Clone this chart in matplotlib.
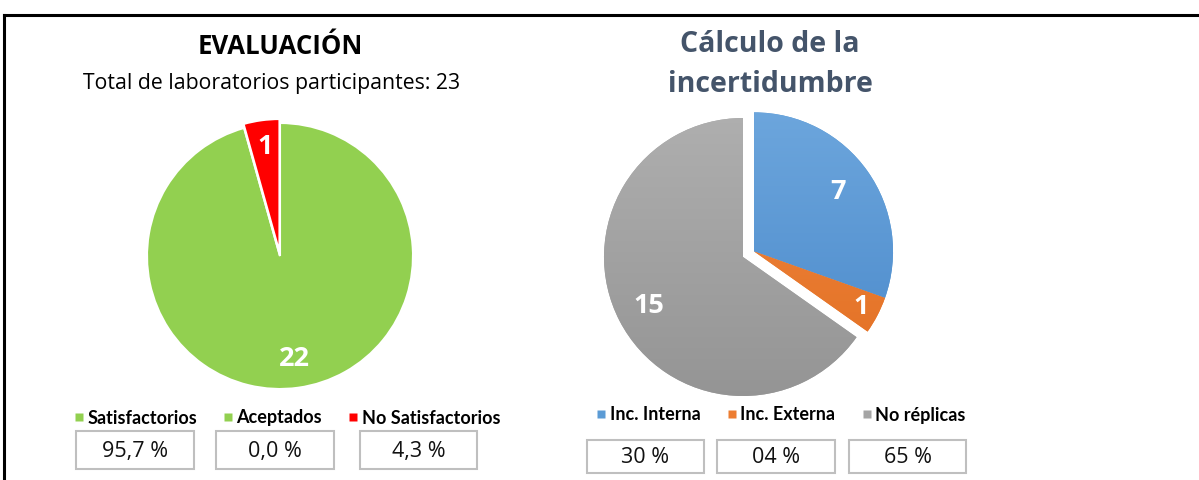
import numpy as np
import matplotlib
matplotlib.use("Agg")
import matplotlib.pyplot as plt
from matplotlib.patches import Rectangle
from matplotlib.lines import Line2D

plt.rcParams['font.family'] = ['Lato', 'DejaVu Sans']

# ---------------- data ----------------
eval_labels = ["Satisfactorios", "Aceptados", "No Satisfactorios"]
eval_values = [22, 0, 1]
eval_pct = ["95,7 %", "0,0 %", "4,3 %"]
eval_title = "EVALUACIÓN"
eval_subtitle = "Total de laboratorios participantes: 23"

inc_labels = ["Inc. Interna", "Inc. Externa", "No réplicas"]
inc_values = [7, 1, 15]
inc_pct = ["30 %", "04 %", "65 %"]
inc_title = "Cálculo de la\nincertidumbre"

# ---------------- style ----------------
eval_colors = ["#92D050", "#92D050", "#FF0000"]
inc_colors = ["#5B9BD5", "#ED7D31", "#A5A5A5"]
inc_grad = [("#6FA8DE", "#4585C8"), ("#F28A44", "#E06C1E"), ("#B1B1B1", "#929292")]
OPEN = ["Open Sans", "DejaVu Sans"]

W, H = 1199, 480
fig = plt.figure(figsize=(W / 100, H / 100), dpi=100)
fig.patch.set_facecolor("white")


def px_axes(cx, cy, r, lim=1.2):
    size = 2 * lim * r
    return fig.add_axes([(cx - size / 2) / W, (H - cy - size / 2) / H, size / W, size / H])


def fig_text(x, y, s, **kw):
    fig.text(x / W, 1 - y / H, s, **kw)


def box(x0, x1, y0, y1, s):
    fig.add_artist(Rectangle((x0 / W, 1 - y1 / H), (x1 - x0) / W, (y1 - y0) / H,
                             transform=fig.transFigure, facecolor="white",
                             edgecolor="#BFBFBF", linewidth=1.5))
    fig_text((x0 + x1) / 2, (y0 + y1) / 2 + 1, s, ha="center", va="center",
             fontsize=15.5, color="#111111", family=OPEN)


def place_labels(ax, wedges, values, dists):
    for i, (w, v) in enumerate(zip(wedges, values)):
        if v == 0:
            continue
        ang = np.deg2rad((w.theta1 + w.theta2) / 2)
        cx, cy = w.center
        ax.text(cx + dists[i] * np.cos(ang), cy + dists[i] * np.sin(ang), str(v),
                ha="center", va="center", color="white", fontsize=19.5,
                fontweight="bold", family=OPEN)


def legend_handles(colors):
    return [Line2D([], [], linestyle="none", marker="s", markersize=5.2,
                   markerfacecolor=c, markeredgecolor="none") for c in colors]


LEG = dict(ncol=3, frameon=False, loc="center", handlelength=0.55, handleheight=0.7,
           handletextpad=0.2, columnspacing=1.45, prop=dict(weight="bold", size=13))

# ---------------- left pie ----------------
ax1 = px_axes(280, 256, 133)
w1, _ = ax1.pie(eval_values, colors=eval_colors, startangle=90, counterclock=False,
                explode=[0, 0, 0.03], radius=1.0,
                wedgeprops=dict(edgecolor="white", linewidth=1.5))
ax1.set_xlim(-1.2, 1.2)
ax1.set_ylim(-1.2, 1.2)
ax1.set_aspect("equal")
ax1.axis("off")
place_labels(ax1, w1, eval_values, [0.78, 0.78, 0.80])

fig.legend(legend_handles(eval_colors), eval_labels,
           bbox_to_anchor=(287 / W, 1 - 418 / H), **LEG)

fig_text(280, 46, eval_title, ha="center", va="center", fontsize=18.5,
         fontweight="bold", color="black", family=OPEN)
fig_text(272, 83, eval_subtitle, ha="center", va="center", fontsize=15.3,
         color="black", family=OPEN)

for (x0, x1), s in zip([(76, 194), (216, 334), (360, 477)], eval_pct):
    box(x0, x1, 431, 469, s)

# ---------------- right pie ----------------
ax2 = px_axes(743, 257, 139)
w2, _ = ax2.pie(inc_values, colors=inc_colors, startangle=90, counterclock=False,
                radius=1.0, wedgeprops=dict(edgecolor="none", linewidth=0))
shift = 0.089 * np.array([np.cos(np.deg2rad(27)), np.sin(np.deg2rad(27))])
w2[0].set_center(tuple(shift))
w2[1].set_center(tuple(shift))
ax2.set_aspect("equal")
ax2.axis("off")

# vertical gradient fill clipped to each wedge
for w, (top, bot) in zip(w2, inc_grad):
    c0 = np.array(matplotlib.colors.to_rgb(top))
    c1 = np.array(matplotlib.colors.to_rgb(bot))
    t = np.linspace(0, 1, 256)[:, None]
    img = (c0 * (1 - t) + c1 * t)[:, None, :]
    im = ax2.imshow(img, extent=(-1.2, 1.2, -1.2, 1.2), origin="upper",
                    aspect="auto", zorder=w.get_zorder() + 0.1, interpolation="bilinear")
    im.set_clip_path(w)
ax2.set_xlim(-1.2, 1.2)
ax2.set_ylim(-1.2, 1.2)
place_labels(ax2, w2, inc_values, [0.74, 0.87, 0.76])

fig.legend(legend_handles(inc_colors), inc_labels,
           bbox_to_anchor=(781 / W, 1 - 415 / H), **LEG)

fig_text(770, 64, inc_title, ha="center", va="center", fontsize=20.5,
         fontweight="bold", color="#44546A", linespacing=1.5, family=OPEN)

for (x0, x1), s in zip([(587, 704), (717, 835), (849, 966)], inc_pct):
    box(x0, x1, 440, 473, s)

# ---------------- frame lines ----------------
fig.add_artist(Line2D([3.5 / W, 1], [1 - 14.5 / H, 1 - 14.5 / H], color="black",
                      linewidth=2.2, transform=fig.transFigure))
fig.add_artist(Line2D([3.5 / W, 3.5 / W], [0, 1 - 14.5 / H], color="black",
                      linewidth=2.2, transform=fig.transFigure))

fig.savefig("out.png", dpi=100, facecolor="white")
